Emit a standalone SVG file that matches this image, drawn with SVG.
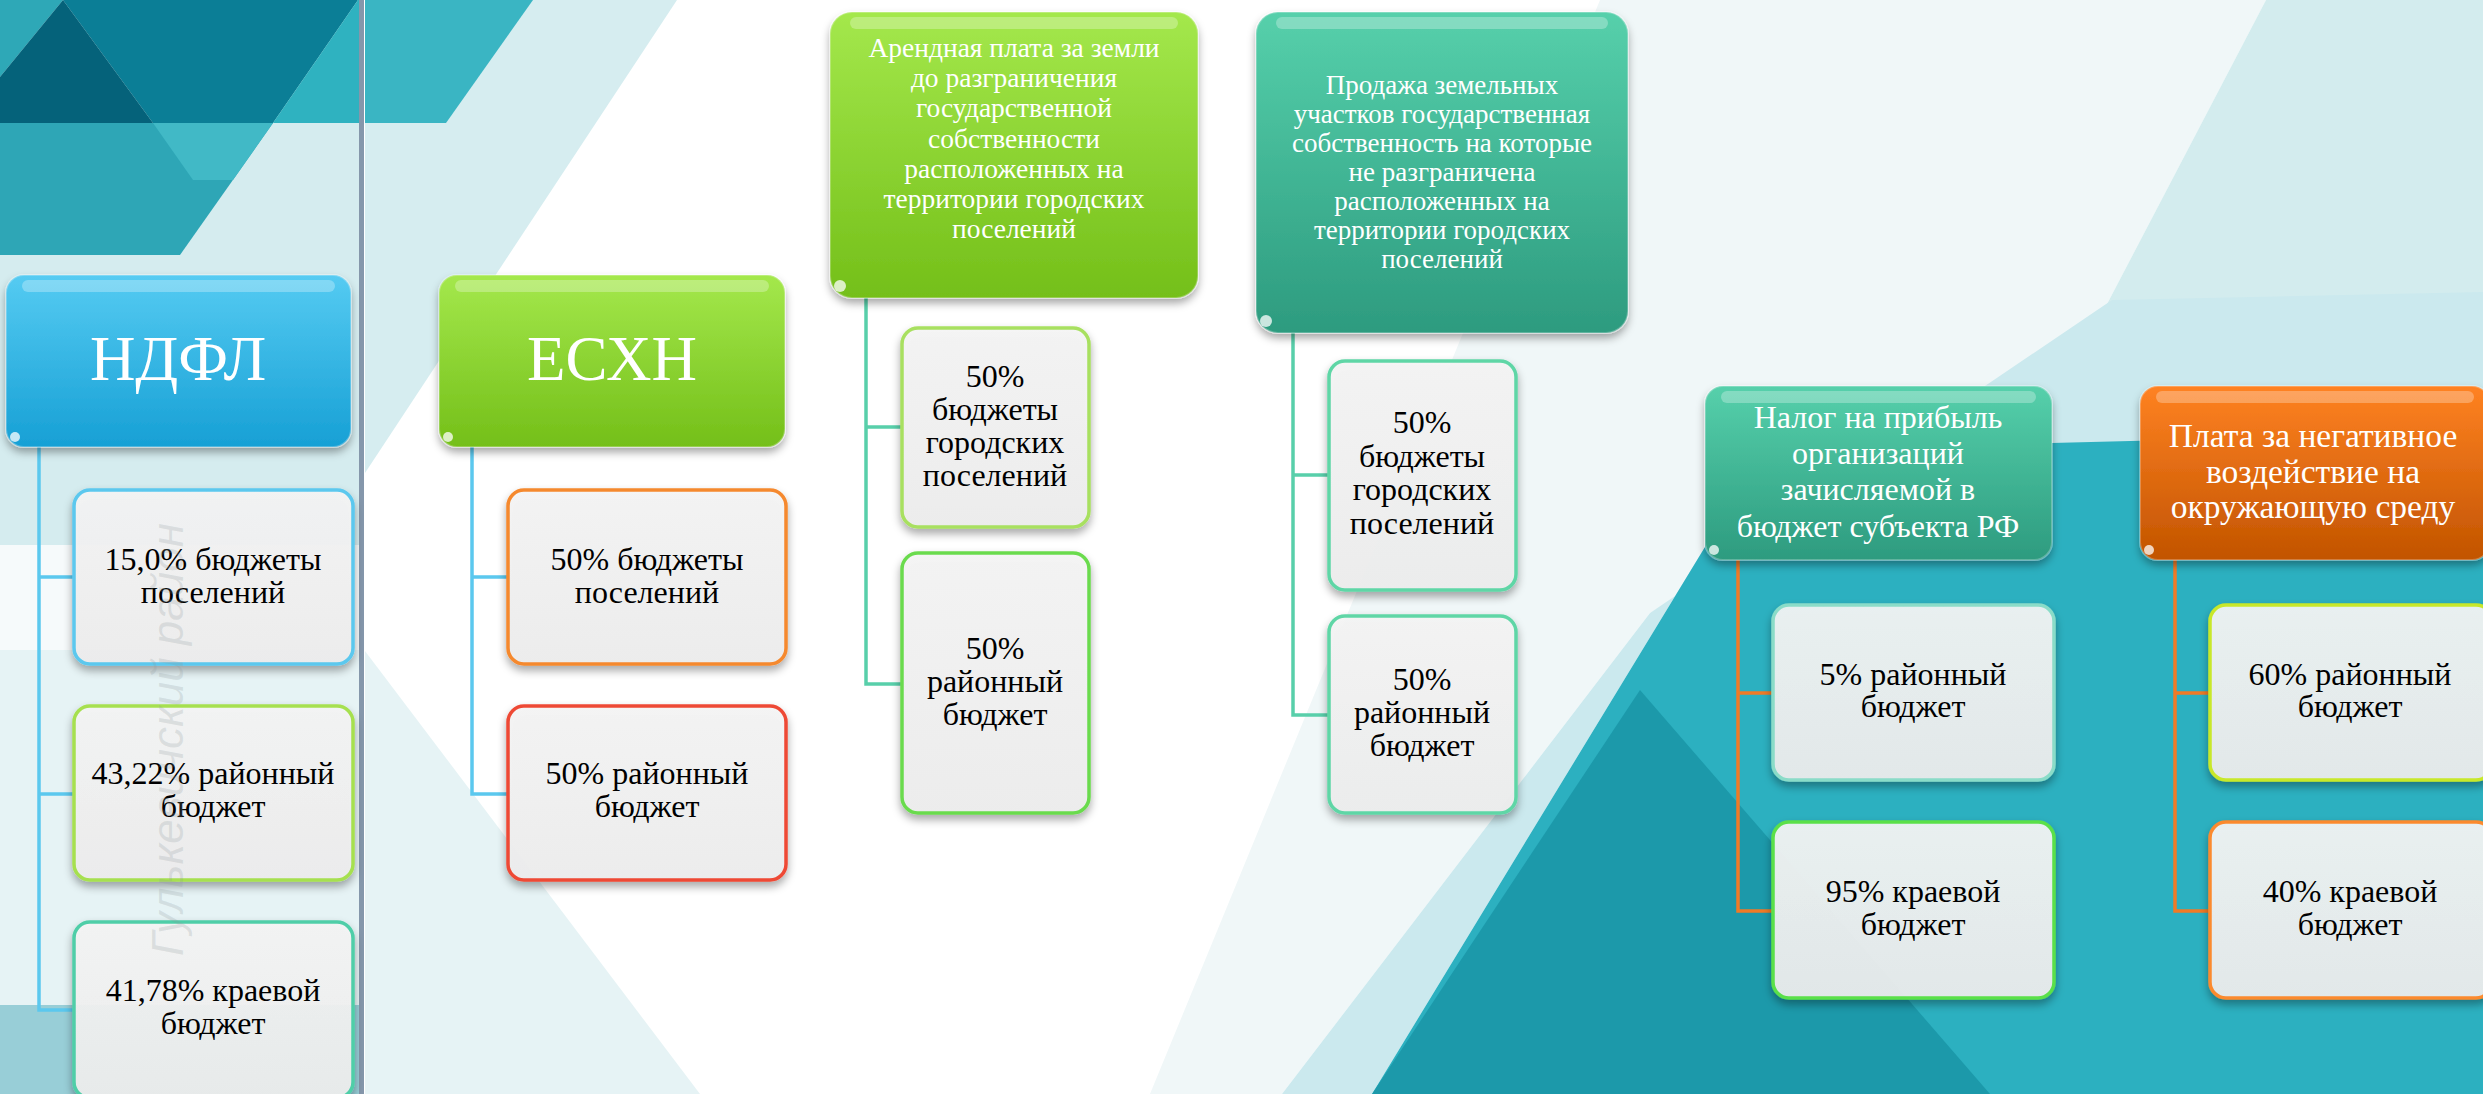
<svg xmlns="http://www.w3.org/2000/svg" width="2483" height="1094" viewBox="0 0 2483 1094">
<defs>
<linearGradient id="gBlue" x1="0" y1="0" x2="0" y2="1"><stop offset="0" stop-color="#55CBF2"/><stop offset="1" stop-color="#17A0D5"/></linearGradient>
<linearGradient id="gGreen" x1="0" y1="0" x2="0" y2="1"><stop offset="0" stop-color="#A4E84C"/><stop offset="1" stop-color="#74BF19"/></linearGradient>
<linearGradient id="gTeal" x1="0" y1="0" x2="0" y2="1"><stop offset="0" stop-color="#56D0AB"/><stop offset="1" stop-color="#2D9B7F"/></linearGradient>
<linearGradient id="gOrange" x1="0" y1="0" x2="0" y2="1"><stop offset="0" stop-color="#FF8222"/><stop offset="1" stop-color="#C25400"/></linearGradient>
<linearGradient id="gChild" x1="0" y1="0" x2="0" y2="1"><stop offset="0" stop-color="#F5F5F5"/><stop offset="1" stop-color="#EEEEEE"/></linearGradient>
<filter id="sh" x="-10%" y="-10%" width="120%" height="130%"><feDropShadow dx="0" dy="5" stdDeviation="4" flood-color="#000" flood-opacity="0.35"/></filter>
</defs>
<style>
.hd{fill:#FFFFFF;text-anchor:middle}
.ch{fill:#000000;text-anchor:middle;font-size:32px}
.box{fill:url(#gChild);fill-opacity:0.93;stroke-width:3.5;filter:url(#sh)}
.hbox{filter:url(#sh);stroke:#FFFFFF;stroke-opacity:0.25;stroke-width:2}
.gloss{fill:#FFFFFF;fill-opacity:0.28}
.glint{fill:#FFFFFF;fill-opacity:0.75}
.cb{fill:none;stroke:#5BC8EE;stroke-width:3.5}
.cm{fill:none;stroke:#58CFAA;stroke-width:3.5}
.co{fill:none;stroke:#F07A26;stroke-width:3.5}
</style>

<g id="background">
<rect x="0" y="0" width="2483" height="1094" fill="#FFFFFF"/>
<rect x="0" y="0" width="362" height="545" fill="#D5ECEF"/>
<rect x="0" y="545" width="362" height="105" fill="#F6FAFB"/>
<rect x="0" y="650" width="362" height="355" fill="#E6F3F5"/>
<rect x="0" y="1005" width="362" height="89" fill="#98CED7"/>
<polygon points="0,123 273,123 180,255 0,255" fill="#2EA6B6"/>
<polygon points="153,123 273,123 233,180 193,180" fill="#41B9C6"/>
<polygon points="0,0 63,0 0,77" fill="#2EA8B7"/>
<polygon points="63,0 358,0 273,123 153,123" fill="#0B7E96"/>
<polygon points="63,0 0,77 0,123 153,123" fill="#05627A"/>
<polygon points="358,0 362,0 362,123 273,123" fill="#2FB2C0"/>
<polygon points="365,0 677,0 365,473" fill="#D6EDF0"/>
<polygon points="365,0 533,0 446,123 365,123" fill="#3AB5C3"/>
<polygon points="365,651 700,1094 365,1094" fill="#E6F3F5"/>
<polygon points="1600,0 2266,0 2083,350 1650,613 1282,1094 1150,1094" fill="#F0F7F8"/>
<polygon points="2266,0 2483,0 2483,300 2083,350" fill="#D3ECEE"/>
<polygon points="1282,1094 1650,613 2112,300 2483,292 2483,432 2055,447 1705,547 1372,1094" fill="#CBE9EE"/>
<polygon points="1372,1094 1705,547 1705,452 2483,432 2483,1094" fill="#2CB0C0"/>
<polygon points="1372,1094 1640,690 1990,1094" fill="#1C99AA"/>
<rect x="359" y="0" width="5" height="1094" fill="#8597AB"/>
</g>

<g id="connectors">
<path class="cb" d="M39,447 V1010 H74 M39,577 H74 M39,794 H74"/>
<path class="cb" d="M472,447 V794 H508 M472,577 H508"/>
<path class="cm" d="M866,298 V684 H902 M866,427 H902"/>
<path class="cm" d="M1293,333 V715 H1329 M1293,475 H1329"/>
<path class="co" d="M1738,560 V911 H1773 M1738,693 H1773"/>
<path class="co" d="M2175,560 V911 H2210 M2175,693 H2210"/>
</g>

<g font-family="Liberation Serif, Times New Roman, DejaVu Serif, serif">
<g id="ndfl">
<rect class="hbox" x="6" y="275" width="345" height="172" rx="18" fill="url(#gBlue)"/>
<rect class="gloss" x="22" y="280" width="313" height="12" rx="6"/>
<circle class="glint" cx="15" cy="437" r="5"/>
<text class="hd" x="178" y="380" font-size="63">НДФЛ</text>
</g>
<g id="ndfl-1">
<rect class="box" x="74" y="490" width="279" height="174" rx="16" stroke="#5BC8EE"/>
<text class="ch"><tspan x="213" y="570">15,0% бюджеты</tspan><tspan x="213" y="603">поселений</tspan></text>
</g>
<g id="ndfl-2">
<rect class="box" x="74" y="706" width="279" height="174" rx="16" stroke="#A6E050"/>
<text class="ch"><tspan x="213" y="784">43,22% районный</tspan><tspan x="213" y="817">бюджет</tspan></text>
</g>
<g id="ndfl-3">
<rect class="box" x="74" y="922" width="279" height="176" rx="16" stroke="#4FCEA8"/>
<text class="ch"><tspan x="213" y="1001">41,78% краевой</tspan><tspan x="213" y="1034">бюджет</tspan></text>
</g>

<g id="eshn">
<rect class="hbox" x="439" y="275" width="346" height="172" rx="18" fill="url(#gGreen)"/>
<rect class="gloss" x="455" y="280" width="314" height="12" rx="6"/>
<circle class="glint" cx="448" cy="437" r="5"/>
<text class="hd" x="612" y="380" font-size="63">ЕСХН</text>
</g>
<g id="eshn-1">
<rect class="box" x="508" y="490" width="278" height="174" rx="16" stroke="#F5892F"/>
<text class="ch"><tspan x="647" y="570">50% бюджеты</tspan><tspan x="647" y="603">поселений</tspan></text>
</g>
<g id="eshn-2">
<rect class="box" x="508" y="706" width="278" height="174" rx="16" stroke="#EE4A35"/>
<text class="ch"><tspan x="647" y="784">50% районный</tspan><tspan x="647" y="817">бюджет</tspan></text>
</g>

<g id="arenda">
<rect class="hbox" x="830" y="12" width="368" height="286" rx="22" fill="url(#gGreen)"/>
<rect class="gloss" x="850" y="17" width="328" height="12" rx="6"/>
<circle class="glint" cx="840" cy="286" r="6"/>
<text class="hd" font-size="27.5"><tspan x="1014" y="57">Арендная плата за земли</tspan><tspan x="1014" y="87">до разграничения</tspan><tspan x="1014" y="117">государственной</tspan><tspan x="1014" y="148">собственности</tspan><tspan x="1014" y="178">расположенных на</tspan><tspan x="1014" y="208">территории городских</tspan><tspan x="1014" y="238">поселений</tspan></text>
</g>
<g id="arenda-1">
<rect class="box" x="902" y="328" width="187" height="199" rx="16" stroke="#A8E060"/>
<text class="ch"><tspan x="995" y="387">50%</tspan><tspan x="995" y="420">бюджеты</tspan><tspan x="995" y="453">городских</tspan><tspan x="995" y="486">поселений</tspan></text>
</g>
<g id="arenda-2">
<rect class="box" x="902" y="553" width="187" height="260" rx="16" stroke="#6BDB4E"/>
<text class="ch"><tspan x="995" y="659">50%</tspan><tspan x="995" y="692">районный</tspan><tspan x="995" y="725">бюджет</tspan></text>
</g>

<g id="prodazha">
<rect class="hbox" x="1256" y="12" width="372" height="321" rx="22" fill="url(#gTeal)"/>
<rect class="gloss" x="1276" y="17" width="332" height="12" rx="6"/>
<circle class="glint" cx="1266" cy="321" r="6"/>
<text class="hd" font-size="27"><tspan x="1442" y="94">Продажа земельных</tspan><tspan x="1442" y="123">участков государственная</tspan><tspan x="1442" y="152">собственность на которые</tspan><tspan x="1442" y="181">не разграничена</tspan><tspan x="1442" y="210">расположенных на</tspan><tspan x="1442" y="239">территории городских</tspan><tspan x="1442" y="268">поселений</tspan></text>
</g>
<g id="prodazha-1">
<rect class="box" x="1329" y="361" width="187" height="229" rx="16" stroke="#5FD6A6"/>
<text class="ch"><tspan x="1422" y="433">50%</tspan><tspan x="1422" y="467">бюджеты</tspan><tspan x="1422" y="500">городских</tspan><tspan x="1422" y="534">поселений</tspan></text>
</g>
<g id="prodazha-2">
<rect class="box" x="1329" y="616" width="187" height="197" rx="16" stroke="#5FD6A6"/>
<text class="ch"><tspan x="1422" y="690">50%</tspan><tspan x="1422" y="723">районный</tspan><tspan x="1422" y="756">бюджет</tspan></text>
</g>

<g id="nalog">
<rect class="hbox" x="1705" y="386" width="347" height="174" rx="18" fill="url(#gTeal)"/>
<rect class="gloss" x="1721" y="391" width="315" height="12" rx="6"/>
<circle class="glint" cx="1714" cy="550" r="5"/>
<text class="hd" font-size="32"><tspan x="1878" y="428">Налог на прибыль</tspan><tspan x="1878" y="464">организаций</tspan><tspan x="1878" y="500">зачисляемой в</tspan><tspan x="1878" y="537">бюджет субъекта РФ</tspan></text>
</g>
<g id="nalog-1">
<rect class="box" x="1773" y="605" width="281" height="175" rx="16" stroke="#8ADCC8"/>
<text class="ch"><tspan x="1913" y="685">5% районный</tspan><tspan x="1913" y="717">бюджет</tspan></text>
</g>
<g id="nalog-2">
<rect class="box" x="1773" y="822" width="281" height="176" rx="16" stroke="#5AE04A"/>
<text class="ch"><tspan x="1913" y="902">95% краевой</tspan><tspan x="1913" y="935">бюджет</tspan></text>
</g>

<g id="plata">
<rect class="hbox" x="2140" y="386" width="350" height="174" rx="18" fill="url(#gOrange)"/>
<rect class="gloss" x="2156" y="391" width="318" height="12" rx="6"/>
<circle class="glint" cx="2149" cy="550" r="5"/>
<text class="hd" font-size="33.5"><tspan x="2313" y="447">Плата за негативное</tspan><tspan x="2313" y="483">воздействие на</tspan><tspan x="2313" y="518">окружающую среду</tspan></text>
</g>
<g id="plata-1">
<rect class="box" x="2210" y="605" width="282" height="175" rx="16" stroke="#C8E82A"/>
<text class="ch"><tspan x="2350" y="685">60% районный</tspan><tspan x="2350" y="717">бюджет</tspan></text>
</g>
<g id="plata-2">
<rect class="box" x="2210" y="822" width="282" height="176" rx="16" stroke="#FB8A2E"/>
<text class="ch"><tspan x="2350" y="902">40% краевой</tspan><tspan x="2350" y="935">бюджет</tspan></text>
</g>
</g>

<text x="0" y="0" transform="translate(183,956) rotate(-90)" font-family="Liberation Sans, Arial, sans-serif" font-style="italic" font-size="44" fill="#8C979B" fill-opacity="0.22">Гулькевичский район</text>
</svg>
